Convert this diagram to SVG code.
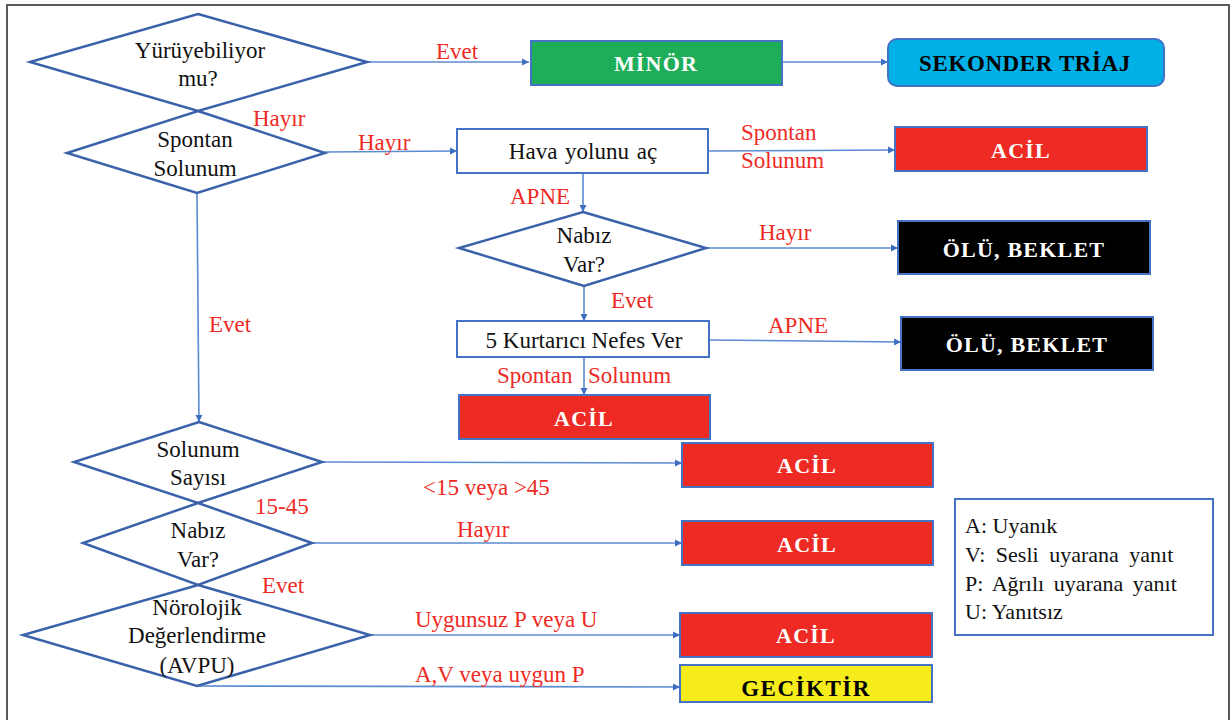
<svg xmlns="http://www.w3.org/2000/svg" width="1232" height="720" viewBox="0 0 1232 720" font-family="'Liberation Serif', 'Times New Roman', serif">
<defs>
<marker id="ah" markerWidth="8" markerHeight="8" refX="7" refY="4" orient="auto" markerUnits="userSpaceOnUse">
<path d="M0,0.5 L7,4 L0,7.5 Z" fill="#3f6fc0"/>
</marker>
<style>
.frame{fill:#fff;stroke:#5a5a5a;stroke-width:2}
.dia{fill:#fff;stroke:#3a62aa;stroke-width:2.5}
.box{stroke:#4472c4;stroke-width:2}
.t{font-family:'Liberation Serif','Times New Roman',serif;font-size:23px;fill:#111;text-anchor:middle}
.w{font-family:'Liberation Serif','Times New Roman',serif;font-size:22px;font-weight:bold;fill:#fff;text-anchor:middle;letter-spacing:1.2px}
.k{font-family:'Liberation Serif','Times New Roman',serif;font-size:23px;font-weight:bold;fill:#000;text-anchor:middle}
.r{font-family:'Liberation Serif','Times New Roman',serif;font-size:23px;fill:#ee2a24}
.l{font-family:'Liberation Serif','Times New Roman',serif;font-size:22px;fill:#111}
.c{fill:none;stroke:#5b8bd0;stroke-width:1.6;marker-end:url(#ah)}
</style>
</defs>
<rect class="frame" x="7" y="5" width="1222" height="722"/>

<g id="connectors">
<line class="c" x1="367" y1="62" x2="529" y2="62"/>
<line class="c" x1="782" y1="62" x2="888" y2="62"/>
<line class="c" x1="325" y1="152" x2="457" y2="151"/>
<line class="c" x1="708" y1="151" x2="895" y2="150"/>
<line class="c" x1="583" y1="173" x2="583" y2="212"/>
<line class="c" x1="706" y1="248" x2="898" y2="248"/>
<line class="c" x1="584" y1="286" x2="584" y2="321"/>
<line class="c" x1="709" y1="340" x2="901" y2="342"/>
<line class="c" x1="584" y1="357" x2="584" y2="395"/>
<line class="c" x1="197" y1="193" x2="199" y2="422"/>
<line class="c" x1="322" y1="462" x2="682" y2="463"/>
<line class="c" x1="312" y1="543" x2="682" y2="543"/>
<line class="c" x1="370" y1="635" x2="680" y2="635"/>
<line class="c" x1="197" y1="686" x2="680" y2="687"/>
</g>

<g id="labels">
<text class="r" x="436" y="59">Evet</text>
<text class="r" x="253" y="126">Hayır</text>
<text class="r" x="358" y="150">Hayır</text>
<text class="r" x="741" y="140">Spontan</text>
<text class="r" x="741" y="168">Solunum</text>
<text class="r" x="510" y="204">APNE</text>
<text class="r" x="759" y="240">Hayır</text>
<text class="r" x="611" y="308">Evet</text>
<text class="r" x="768" y="333">APNE</text>
<text class="r" x="497" y="383">Spontan</text>
<text class="r" x="588" y="383">Solunum</text>
<text class="r" x="209" y="332">Evet</text>
<text class="r" x="423" y="495">&lt;15 veya &gt;45</text>
<text class="r" x="255" y="514">15-45</text>
<text class="r" x="457" y="537">Hayır</text>
<text class="r" x="262" y="593">Evet</text>
<text class="r" x="415" y="627">Uygunsuz P veya U</text>
<text class="r" x="415" y="682">A,V veya uygun P</text>
</g>

<g id="n-yuruyebiliyor">
<polygon class="dia" points="198,14 367,62 198,111 30,62"/>
<text class="t" x="200" y="58">Yürüyebiliyor</text>
<text class="t" x="198" y="86">mu?</text>
</g>
<g id="n-spontan">
<polygon class="dia" points="198,111 325,153 197,193 67,153"/>
<text class="t" x="195" y="147">Spontan</text>
<text class="t" x="195" y="176">Solunum</text>
</g>
<g id="n-minor">
<rect class="box" x="531" y="41" width="251" height="44" fill="#1eae5a"/>
<text class="w" x="656" y="71">MİNÖR</text>
</g>
<g id="n-sekonder">
<rect class="box" x="888" y="39" width="276" height="47" rx="9" fill="#00b0e6"/>
<text class="k" x="1025" y="71" letter-spacing="0.6">SEKONDER TRİAJ</text>
</g>
<g id="n-hava">
<rect class="box" x="457" y="129" width="251" height="44" fill="#fff"/>
<text class="t" x="583" y="159" word-spacing="2">Hava yolunu aç</text>
</g>
<g id="n-acil1">
<rect class="box" x="895" y="127" width="252" height="44" fill="#ee2a24"/>
<text class="w" x="1021" y="158">ACİL</text>
</g>
<g id="n-nabiz1">
<polygon class="dia" points="583,212 706,248 584,286 459,248"/>
<text class="t" x="584" y="243">Nabız</text>
<text class="t" x="584" y="272">Var?</text>
</g>
<g id="n-olu1">
<rect class="box" x="898" y="221" width="252" height="53" fill="#000"/>
<text class="w" x="1024" y="257" letter-spacing="0">ÖLÜ, BEKLET</text>
</g>
<g id="n-kurtarici">
<rect class="box" x="457" y="321" width="252" height="36" fill="#fff"/>
<text class="t" x="584" y="348">5 Kurtarıcı Nefes Ver</text>
</g>
<g id="n-olu2">
<rect class="box" x="901" y="317" width="252" height="53" fill="#000"/>
<text class="w" x="1027" y="352" letter-spacing="0">ÖLÜ, BEKLET</text>
</g>
<g id="n-acil-mid">
<rect class="box" x="459" y="395" width="251" height="44" fill="#ee2a24"/>
<text class="w" x="584" y="426">ACİL</text>
</g>
<g id="n-solunum-sayisi">
<polygon class="dia" points="199,422 322,462 198,503 74,462"/>
<text class="t" x="198" y="457">Solunum</text>
<text class="t" x="198" y="485">Sayısı</text>
</g>
<g id="n-acil2">
<rect class="box" x="682" y="443" width="251" height="44" fill="#ee2a24"/>
<text class="w" x="807" y="473">ACİL</text>
</g>
<g id="n-nabiz2">
<polygon class="dia" points="198,503 312,543 198,585 83,543"/>
<text class="t" x="198" y="538">Nabız</text>
<text class="t" x="198" y="567">Var?</text>
</g>
<g id="n-acil3">
<rect class="box" x="682" y="521" width="251" height="44" fill="#ee2a24"/>
<text class="w" x="807" y="552">ACİL</text>
</g>
<g id="n-norolojik">
<polygon class="dia" points="198,585 370,635 197,686 23,635"/>
<text class="t" x="197" y="615">Nörolojik</text>
<text class="t" x="197" y="643">Değerlendirme</text>
<text class="t" x="197" y="673">(AVPU)</text>
</g>
<g id="n-acil4">
<rect class="box" x="680" y="613" width="252" height="44" fill="#ee2a24"/>
<text class="w" x="806" y="643">ACİL</text>
</g>
<g id="n-geciktir">
<rect class="box" x="680" y="665" width="252" height="37" fill="#f6ec1c"/>
<text class="k" x="806" y="696" letter-spacing="1.5">GECİKTİR</text>
</g>
<g id="n-legend">
<rect class="box" x="955" y="499" width="258" height="136" fill="#fff"/>
<text class="l" x="965" y="533">A: Uyanık</text>
<text class="l" x="965" y="562" word-spacing="5">V: Sesli uyarana yanıt</text>
<text class="l" x="965" y="591" word-spacing="4">P: Ağrılı uyarana yanıt</text>
<text class="l" x="965" y="619">U: Yanıtsız</text>
</g>
</svg>
